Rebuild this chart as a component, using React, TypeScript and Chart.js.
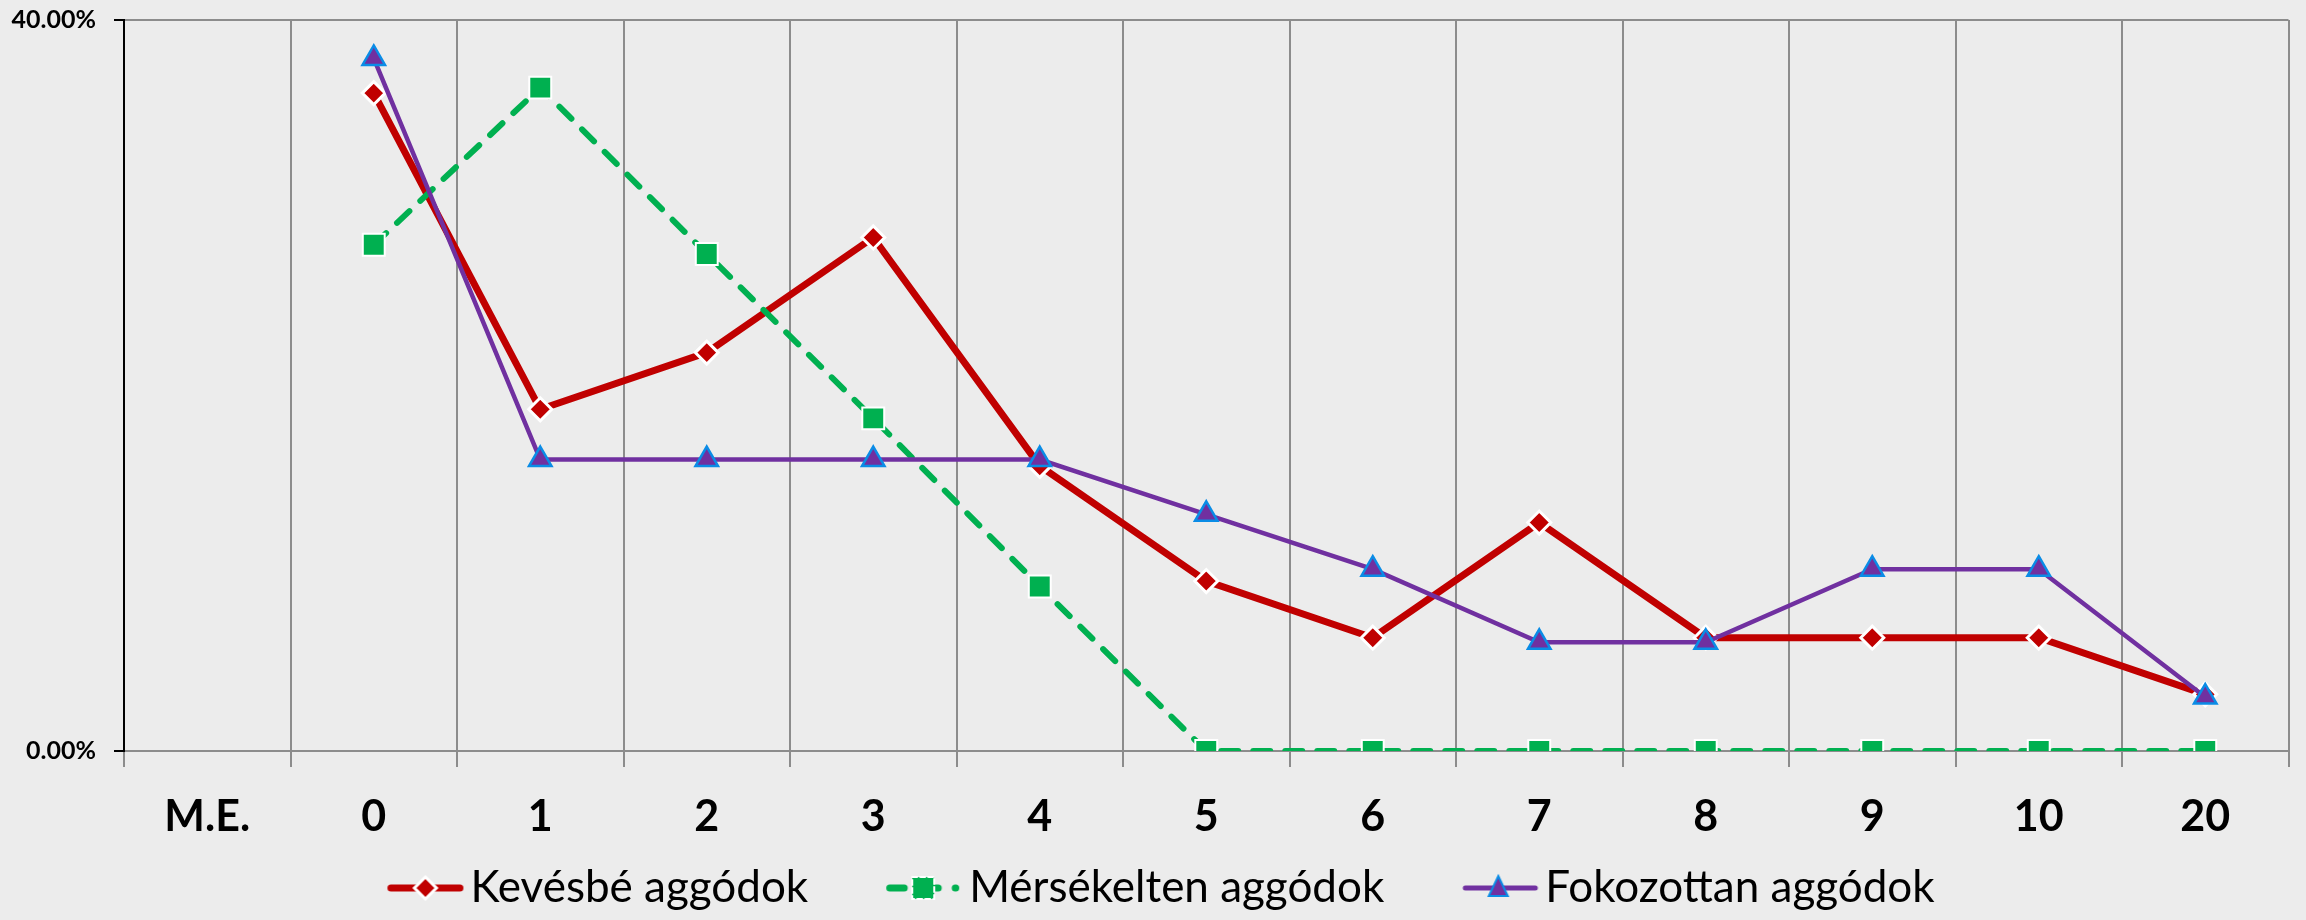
import React, { useEffect, useRef } from "react";
import { Chart, registerables } from "chart.js";

Chart.register(...registerables);

const categories = ["M.E.", "0", "1", "2", "3", "4", "5", "6", "7", "8", "9", "10", "20"];
const kevesbe = [null, 36.0, 18.7, 21.8, 28.1, 15.6, 9.3, 6.2, 12.5, 6.2, 6.2, 6.2, 3.1];
const mersekelten = [null, 27.7, 36.3, 27.2, 18.2, 9.0, 0, 0, 0, 0, 0, 0, 0];
const fokozottan = [null, 37.9, 15.95, 15.95, 15.95, 15.95, 12.95, 9.95, 5.95, 5.95, 9.95, 9.95, 2.95];
const seriesNames = ["Kevésbé aggódok", "Mérsékelten aggódok", "Fokozottan aggódok"];
const yTicks = [0, 40];

const BG = "#ECECEC";
const GRID = "#8C8C8C";
const RED = "#C00000";
const GREEN = "#00B050";
const PURPLE = "#7030A0";
const BLUE = "#0A8CE6";

const FONT = "Lato, 'Open Sans', sans-serif";
const LEGEND_BOX = 130;
const ICON_W = LEGEND_BOX + 34;
const MARK_L = 86;
const MARK_R = 162;

function makeLegendIcon(kind: string): HTMLCanvasElement {
  const H = 34;
  const c = document.createElement("canvas");
  c.width = ICON_W;
  c.height = H;
  const ctx = c.getContext("2d")!;
  const cy = H / 2;
  ctx.lineCap = "round";
  if (kind === "red") {
    ctx.strokeStyle = RED;
    ctx.lineWidth = 7;
    ctx.beginPath();
    ctx.moveTo(MARK_L + 3.5, cy);
    ctx.lineTo(MARK_R - 3.5, cy);
    ctx.stroke();
    const cx = MARK_L + 38;
    ctx.beginPath();
    ctx.moveTo(cx, cy - 11);
    ctx.lineTo(cx + 11, cy);
    ctx.lineTo(cx, cy + 11);
    ctx.lineTo(cx - 11, cy);
    ctx.closePath();
    ctx.fillStyle = RED;
    ctx.fill();
    ctx.strokeStyle = "#fff";
    ctx.lineWidth = 3;
    ctx.stroke();
  } else if (kind === "green") {
    ctx.strokeStyle = GREEN;
    ctx.lineWidth = 7;
    ctx.beginPath();
    ctx.moveTo(MARK_L + 3.5, cy);
    ctx.lineTo(MARK_L + 18, cy);
    ctx.stroke();
    ctx.beginPath();
    ctx.moveTo(MARK_L + 30, cy);
    ctx.lineTo(MARK_L + 52, cy);
    ctx.stroke();
    ctx.beginPath();
    ctx.moveTo(MARK_L + 69, cy);
    ctx.lineTo(MARK_L + 69.5, cy);
    ctx.stroke();
    const cx = MARK_L + 37;
    ctx.fillStyle = GREEN;
    ctx.fillRect(cx - 11, cy - 11, 22, 22);
    ctx.strokeStyle = "#fff";
    ctx.lineWidth = 2;
    ctx.setLineDash([5, 3]);
    ctx.strokeRect(cx - 11, cy - 11, 22, 22);
  } else {
    ctx.strokeStyle = PURPLE;
    ctx.lineWidth = 5;
    ctx.beginPath();
    ctx.moveTo(MARK_L + 3, cy);
    ctx.lineTo(MARK_R - 3, cy);
    ctx.stroke();
    const cx = MARK_L + 36;
    ctx.beginPath();
    ctx.moveTo(cx, cy - 12);
    ctx.lineTo(cx + 9.5, cy + 8);
    ctx.lineTo(cx - 9.5, cy + 8);
    ctx.closePath();
    ctx.fillStyle = PURPLE;
    ctx.fill();
    ctx.strokeStyle = BLUE;
    ctx.lineWidth = 2;
    ctx.stroke();
  }
  return c;
}

const bgPlugin = {
  id: "bgFill",
  beforeDraw(chart: any) {
    const { ctx, width, height } = chart;
    ctx.save();
    ctx.fillStyle = BG;
    ctx.fillRect(0, 0, width, height);
    ctx.restore();
  },
};

const legendShift = {
  id: "legendShift",
  afterLayout(chart: any) {
    const lg = chart.legend;
    if (lg) {
      lg.left -= 20;
      lg.right -= 20;
    }
  },
};

export default function App() {
  const ref = useRef<HTMLCanvasElement | null>(null);

  useEffect(() => {
    document.body.style.margin = "0";
    document.body.style.background = BG;
    const icons = [makeLegendIcon("red"), makeLegendIcon("green"), makeLegendIcon("purple")];
    const chart = new Chart(ref.current!, {
      type: "line",
      data: {
        labels: categories,
        datasets: [
          {
            label: seriesNames[0],
            data: kevesbe,
            borderColor: RED,
            backgroundColor: RED,
            borderWidth: 7,
            pointStyle: "rectRot",
            pointRadius: 11.5,
            pointBorderColor: "#fff",
            pointBackgroundColor: RED,
            pointBorderWidth: 3,
            order: 2,
            tension: 0,
          },
          {
            label: seriesNames[1],
            data: mersekelten,
            borderColor: GREEN,
            backgroundColor: GREEN,
            borderWidth: 6,
            borderDash: [17, 15],
            borderCapStyle: "round",
            pointStyle: "rect",
            pointRadius: 15.5,
            pointBorderColor: "#fff",
            pointBackgroundColor: GREEN,
            pointBorderWidth: 2,
            order: 1,
            tension: 0,
          },
          {
            label: seriesNames[2],
            data: fokozottan,
            borderColor: PURPLE,
            backgroundColor: PURPLE,
            borderWidth: 4.5,
            pointStyle: "triangle",
            pointRadius: 13,
            pointBorderColor: BLUE,
            pointBackgroundColor: PURPLE,
            pointBorderWidth: 2.5,
            order: 0,
            tension: 0,
          },
        ],
      } as any,
      options: {
        animation: false,
        responsive: false,
        maintainAspectRatio: false,
        layout: { padding: { top: 20, right: 13, left: 0, bottom: 0 } },
        plugins: {
          tooltip: { enabled: false },
          legend: {
            position: "bottom",
            align: "center",
            labels: {
              usePointStyle: true,
              pointStyleWidth: LEGEND_BOX,
              padding: 9,
              color: "#000",
              font: { family: FONT, size: 44 },
              generateLabels: () =>
                seriesNames.map((n, i) => ({
                  text: n,
                  datasetIndex: i,
                  pointStyle: icons[i],
                  fillStyle: "transparent",
                  strokeStyle: "transparent",
                  lineWidth: 0,
                  hidden: false,
                  fontColor: "#000",
                })) as any,
            },
          },
        },
        scales: {
          x: {
            offset: true,
            afterFit: (scale: any) => {
              scale.height = 106;
            },
            grid: {
              offset: true,
              color: GRID,
              lineWidth: 2,
              tickLength: 16,
              drawOnChartArea: true,
            },
            border: { color: GRID, width: 2 },
            ticks: {
              color: "#000",
              padding: 24,
              font: { family: FONT, size: 43, weight: "bold" },
              maxRotation: 0,
              autoSkip: false,
            },
          },
          y: {
            min: 0,
            max: 40,
            afterBuildTicks: (scale: any) => {
              scale.ticks = yTicks.map((v) => ({ value: v }));
            },
            afterFit: (scale: any) => {
              scale.width = 124;
              scale.paddingTop = 0;
            },
            grid: {
              color: GRID,
              lineWidth: 2,
              tickLength: 10,
              tickColor: "#000",
            },
            border: { color: "#000", width: 2 },
            ticks: {
              color: "#000",
              padding: 18,
              font: { family: FONT, size: 25, weight: "bold" },
              callback: (v: any) => Number(v).toFixed(2) + "%",
            },
          },
        },
      } as any,
      plugins: [bgPlugin, legendShift],
    });
    return () => chart.destroy();
  }, []);

  return (
    <div style={{ width: 2306, height: 920, background: BG }}>
      <canvas ref={ref} width={2306} height={920} style={{ display: "block", width: 2306, height: 920 }} />
    </div>
  );
}
